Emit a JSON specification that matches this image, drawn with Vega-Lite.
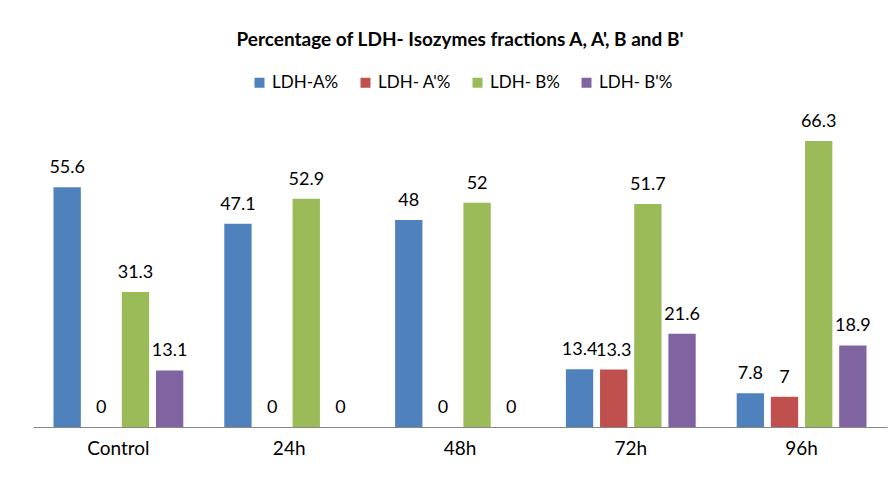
{
  "$schema": "https://vega.github.io/schema/vega-lite/v6.json",
  "width": 854,
  "height": 302,
  "autosize": "none",
  "padding": {"left": 33, "top": 125, "right": 9, "bottom": 50},
  "background": "white",
  "title": {
    "text": "Percentage of LDH- Isozymes fractions A, A', B and B'",
    "font": "Lato",
    "fontSize": 19,
    "fontWeight": "bold",
    "color": "#000000",
    "anchor": "middle",
    "offset": 24
  },
  "data": {
    "values": [
      {"group": "Control", "series": "LDH-A%", "value": 55.6},
      {"group": "Control", "series": "LDH- A'%", "value": 0},
      {"group": "Control", "series": "LDH- B%", "value": 31.3},
      {"group": "Control", "series": "LDH- B'%", "value": 13.1},
      {"group": "24h", "series": "LDH-A%", "value": 47.1},
      {"group": "24h", "series": "LDH- A'%", "value": 0},
      {"group": "24h", "series": "LDH- B%", "value": 52.9},
      {"group": "24h", "series": "LDH- B'%", "value": 0},
      {"group": "48h", "series": "LDH-A%", "value": 48},
      {"group": "48h", "series": "LDH- A'%", "value": 0},
      {"group": "48h", "series": "LDH- B%", "value": 52},
      {"group": "48h", "series": "LDH- B'%", "value": 0},
      {"group": "72h", "series": "LDH-A%", "value": 13.4},
      {"group": "72h", "series": "LDH- A'%", "value": 13.3},
      {"group": "72h", "series": "LDH- B%", "value": 51.7},
      {"group": "72h", "series": "LDH- B'%", "value": 21.6},
      {"group": "96h", "series": "LDH-A%", "value": 7.8},
      {"group": "96h", "series": "LDH- A'%", "value": 7},
      {"group": "96h", "series": "LDH- B%", "value": 66.3},
      {"group": "96h", "series": "LDH- B'%", "value": 18.9}
    ]
  },
  "encoding": {
    "x": {
      "field": "group",
      "type": "nominal",
      "sort": ["Control", "24h", "48h", "72h", "96h"],
      "scale": {"paddingInner": 0.24, "paddingOuter": 0.12},
      "axis": {
        "title": null,
        "labelAngle": 0,
        "labelFont": "Lato",
        "labelFontSize": 19,
        "labelColor": "#000000",
        "labelPadding": 12,
        "ticks": false,
        "domainColor": "#868686",
        "domainWidth": 1,
        "grid": false
      }
    },
    "xOffset": {
      "field": "series",
      "sort": ["LDH-A%", "LDH- A'%", "LDH- B%", "LDH- B'%"],
      "scale": {"paddingInner": 0.2, "paddingOuter": 0}
    },
    "y": {
      "field": "value",
      "type": "quantitative",
      "scale": {"domain": [0, 70]},
      "axis": null
    }
  },
  "layer": [
    {
      "mark": {"type": "bar"},
      "encoding": {
        "color": {
          "field": "series",
          "type": "nominal",
          "sort": ["LDH-A%", "LDH- A'%", "LDH- B%", "LDH- B'%"],
          "scale": {
            "domain": ["LDH-A%", "LDH- A'%", "LDH- B%", "LDH- B'%"],
            "range": ["#4F81BD", "#C0504D", "#9BBB59", "#8064A2"]
          },
          "legend": {
            "title": null,
            "orient": "none",
            "legendX": 218,
            "legendY": -51,
            "direction": "horizontal",
            "symbolType": "square",
            "symbolSize": 100,
            "symbolStrokeWidth": 0,
            "labelFont": "Lato",
            "labelFontSize": 17,
            "labelColor": "#000000",
            "labelOffset": 4,
            "columnPadding": 18
          }
        }
      }
    },
    {
      "mark": {
        "type": "text",
        "baseline": "bottom",
        "dy": -10,
        "font": "Lato",
        "fontSize": 18,
        "color": "#000000"
      },
      "encoding": {
        "text": {"field": "value", "type": "quantitative"}
      }
    }
  ],
  "config": {
    "view": {"stroke": null}
  }
}
